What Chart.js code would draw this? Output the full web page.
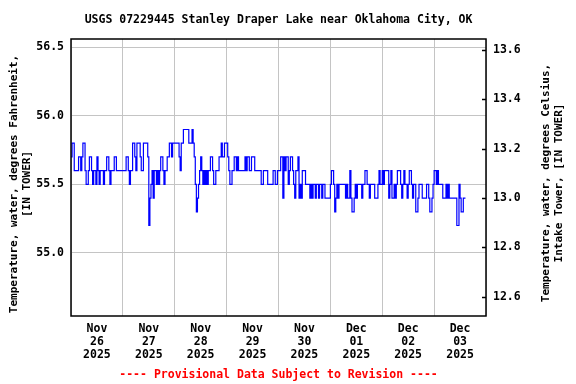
<!DOCTYPE html>
<html>
<head>
<meta charset="utf-8">
<script src="https://cdn.jsdelivr.net/npm/chart.js@4/dist/chart.umd.min.js"></script>
<style>html,body{margin:0;padding:0;background:#fff}canvas{display:block}</style>
</head>
<body>
<canvas id="chart" width="576" height="384"></canvas>
<script>
// USGS lake temperature, 30-minute readings (deg F)
const TITLE = 'USGS 07229445 Stanley Draper Lake near Oklahoma City, OK';
const LEFT_TITLE = ['Temperature, water, degrees Fahrenheit,', '[IN TOWER]'];
const RIGHT_TITLE = ['Temperature, water, degrees Celsius,', 'Intake Tower, [IN TOWER]'];
const FOOTER = '---- Provisional Data Subject to Revision ----';
const DAY_LABELS = [
  ['Nov','26','2025'],['Nov','27','2025'],['Nov','28','2025'],['Nov','29','2025'],
  ['Nov','30','2025'],['Dec','01','2025'],['Dec','02','2025'],['Dec','03','2025']
];
const F_TICKS = [55.0, 55.5, 56.0, 56.5];
const C_TICKS = [12.6, 12.8, 13.0, 13.2, 13.4, 13.6];
const STEP_HOURS = 0.5;

const nov26 = [55.7,55.8,55.8,55.6,55.6,55.6,55.6,55.7,55.7,55.6,
  55.7,55.8,55.8,55.6,55.5,55.5,55.6,55.7,55.7,55.6,
  55.5,55.6,55.6,55.5,55.7,55.6,55.5,55.6,55.6,55.6,
  55.5,55.6,55.6,55.7,55.7,55.6,55.5,55.6,55.6,55.6,
  55.7,55.7,55.6,55.6,55.6,55.6,55.6,55.6];
const nov27 = [55.6,55.6,55.6,55.7,55.7,55.6,55.5,55.6,55.6,55.8,
  55.8,55.7,55.6,55.8,55.8,55.8,55.7,55.6,55.6,55.8,
  55.8,55.8,55.8,55.7,55.2,55.4,55.5,55.6,55.4,55.6,
  55.6,55.5,55.6,55.5,55.6,55.7,55.7,55.6,55.5,55.6,
  55.6,55.7,55.7,55.8,55.8,55.7,55.8,55.8];
const nov28 = [55.8,55.8,55.8,55.8,55.7,55.6,55.8,55.8,55.9,55.9,
  55.9,55.9,55.9,55.8,55.8,55.8,55.9,55.8,55.7,55.5,
  55.3,55.4,55.5,55.6,55.7,55.6,55.5,55.6,55.5,55.6,
  55.5,55.6,55.6,55.7,55.7,55.6,55.5,55.5,55.6,55.6,
  55.6,55.7,55.7,55.8,55.7,55.7,55.8,55.8];
const nov29 = [55.8,55.7,55.6,55.5,55.5,55.6,55.6,55.7,55.7,55.6,
  55.7,55.6,55.6,55.6,55.6,55.6,55.6,55.7,55.6,55.7,
  55.7,55.6,55.6,55.7,55.7,55.7,55.6,55.6,55.6,55.6,
  55.6,55.6,55.5,55.5,55.6,55.6,55.6,55.6,55.5,55.5,
  55.5,55.5,55.5,55.6,55.6,55.5,55.5,55.6];
const nov30 = [55.6,55.6,55.7,55.7,55.4,55.7,55.6,55.7,55.7,55.5,
  55.6,55.7,55.7,55.6,55.5,55.4,55.6,55.6,55.7,55.4,
  55.5,55.4,55.6,55.6,55.6,55.5,55.5,55.5,55.5,55.4,
  55.5,55.4,55.5,55.5,55.4,55.5,55.5,55.4,55.5,55.5,
  55.4,55.5,55.5,55.4,55.4,55.4,55.4,55.4];
const dec01 = [55.5,55.6,55.6,55.5,55.3,55.4,55.5,55.4,55.5,55.5,
  55.5,55.5,55.5,55.5,55.4,55.5,55.4,55.4,55.6,55.4,
  55.3,55.3,55.4,55.5,55.4,55.5,55.5,55.5,55.5,55.4,
  55.5,55.5,55.6,55.6,55.5,55.5,55.4,55.5,55.5,55.5,
  55.5,55.4,55.4,55.4,55.5,55.6,55.5,55.5];
const dec02 = [55.6,55.5,55.6,55.6,55.6,55.6,55.4,55.5,55.6,55.4,
  55.4,55.5,55.4,55.5,55.6,55.6,55.6,55.5,55.4,55.5,
  55.6,55.5,55.5,55.4,55.5,55.6,55.6,55.5,55.4,55.5,
  55.5,55.3,55.3,55.4,55.5,55.5,55.5,55.4,55.4,55.4,
  55.4,55.5,55.5,55.4,55.3,55.3,55.4,55.5];
const dec03 = [55.6,55.6,55.5,55.6,55.5,55.5,55.5,55.5,55.4,55.4,
  55.4,55.5,55.4,55.5,55.4,55.4,55.4,55.4,55.4,55.4,
  55.4,55.2,55.2,55.5,55.4,55.3,55.3,55.4,55.4,55.4];

const temps = [].concat(nov26, nov27, nov28, nov29, nov30, dec01, dec02, dec03);
const points = temps.map((v,i)=>({x: i*STEP_HOURS, y: v}));

const FONT = "'DejaVu Sans Mono', monospace";
const F_MIN = 54.54, F_MAX = 56.56;
const toC = f => (f-32)*5/9;
const GRID = '#c4c4c4';

const decor = {
  id: 'decor',
  afterDraw(chart){
    const ctx = chart.ctx, a = chart.chartArea;
    ctx.save();
    ctx.strokeStyle = '#000'; ctx.lineWidth = 1.5;
    ctx.strokeRect(a.left, a.top, a.right-a.left, a.bottom-a.top);
    // short inward ticks for the Celsius axis
    const yC = chart.scales.yC;
    yC.ticks.forEach(t=>{
      const y = Math.round(yC.getPixelForValue(t.value)) + 0.5;
      ctx.beginPath(); ctx.moveTo(a.right-4, y); ctx.lineTo(a.right, y); ctx.stroke();
    });
    ctx.fillStyle = '#000';
    ctx.textAlign = 'center'; ctx.textBaseline = 'middle';
    ctx.font = 'bold 11.5px ' + FONT;
    ctx.fillText(TITLE, (a.left+a.right)/2, 20);
    ctx.font = 'bold 11px ' + FONT;
    ctx.save(); ctx.translate(14, 184); ctx.rotate(-Math.PI/2);
    ctx.fillText(LEFT_TITLE[0], 0, 0); ctx.fillText(LEFT_TITLE[1], 0, 13);
    ctx.restore();
    ctx.save(); ctx.translate(546, 183); ctx.rotate(-Math.PI/2);
    ctx.fillText(RIGHT_TITLE[0], 0, 0); ctx.fillText(RIGHT_TITLE[1], 0, 13);
    ctx.restore();
    ctx.fillStyle = '#ff0000';
    ctx.font = 'bold 11.5px ' + FONT;
    ctx.fillText(FOOTER, (a.left+a.right)/2, 375);
    ctx.restore();
  }
};

new Chart(document.getElementById('chart').getContext('2d'), {
  type: 'line',
  data: { datasets: [{
    data: points, borderColor: '#0000ff', borderWidth: 1.2, pointRadius: 0,
    stepped: true, fill: false, xAxisID: 'x', yAxisID: 'yF'
  }]},
  options: {
    responsive: false, animation: false, devicePixelRatio: 1,
    layout: { padding: { top: 39, left: 0, right: 0, bottom: 0 } },
    plugins: { legend: { display: false }, tooltip: { enabled: false } },
    scales: {
      x: {
        type: 'linear', position: 'bottom', min: 0, max: 192,
        afterBuildTicks: s => { s.ticks = DAY_LABELS.map((d,i)=>({value: 24*i})).concat([{value:192}]); },
        ticks: { display: false },
        grid: { color: GRID, drawTicks: false },
        border: { display: false },
        afterFit: s => { s.height = 0; }
      },
      xl: {
        type: 'linear', position: 'bottom', min: 0, max: 192,
        afterBuildTicks: s => { s.ticks = DAY_LABELS.map((d,i)=>({value: 12 + 24*i})); },
        ticks: {
          callback: (v,i) => DAY_LABELS[i], color: '#000', padding: 7,
          maxRotation: 0, autoSkip: false,
          font: { family: FONT, size: 11.5, weight: 'bold', lineHeight: '12.7px' }
        },
        grid: { display: false, drawTicks: false },
        border: { display: false },
        afterFit: s => { s.height = 68; }
      },
      yF: {
        position: 'left', min: F_MIN, max: F_MAX,
        afterBuildTicks: s => { s.ticks = F_TICKS.map(v=>({value: v})); },
        ticks: { callback: v => v.toFixed(1), color: '#000', padding: 7,
          font: { family: FONT, size: 11.5, weight: 'bold' } },
        grid: { color: GRID, drawTicks: false },
        border: { display: false },
        afterFit: s => { s.width = 71; }
      },
      yC: {
        position: 'right', min: toC(F_MIN), max: toC(F_MAX),
        afterBuildTicks: s => { s.ticks = C_TICKS.map(v=>({value: v})); },
        ticks: { callback: v => v.toFixed(1), color: '#000', padding: 7,
          font: { family: FONT, size: 11.5, weight: 'bold' } },
        grid: { display: false, drawTicks: false },
        border: { display: false },
        afterFit: s => { s.width = 90; }
      }
    }
  },
  plugins: [decor]
});
</script>
</body>
</html>
